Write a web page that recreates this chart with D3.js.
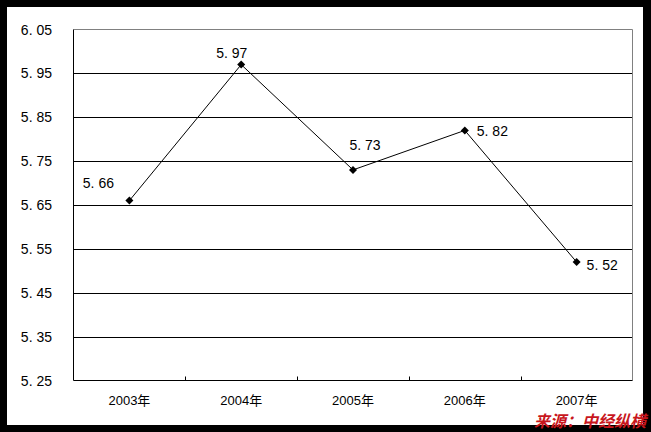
<!DOCTYPE html>
<html><head><meta charset="utf-8">
<script src="https://cdn.jsdelivr.net/npm/d3@7"></script>
<style>body{margin:0;background:#fff}</style>
</head><body>
<script>
const categories = ["2003年","2004年","2005年","2006年","2007年"];
const values = [5.66, 5.97, 5.73, 5.82, 5.52];
const yTicks = [5.25,5.35,5.45,5.55,5.65,5.75,5.85,5.95,6.05];
const sourceText = "来源：中经纵横";

// label placement (layout only): [anchor, dx, dy]
const labelLayout = [["middle",-31,-13],["middle",-9.5,-7],["middle",12,-19.5],["start",12,6],["start",10,8]];

const W=651,H=432;
const svg=d3.select("body").append("svg").attr("width",W).attr("height",H);
svg.append("rect").attr("x",0).attr("y",0).attr("width",W).attr("height",H).attr("fill","#000");
svg.append("rect").attr("x",7).attr("y",7).attr("width",636).attr("height",418).attr("fill","#fff");

const L=73.5,R=632.5,T=29.5,B=380.5;
const x=d3.scaleBand().domain(categories).range([L,R]);
const y=d3.scaleLinear().domain([5.25,6.05]).range([B,T]);
const font="'Liberation Sans', Arial, sans-serif";

svg.append("g").selectAll("line").data(yTicks.slice(1,-1)).join("line")
 .attr("x1",L).attr("x2",R).attr("y1",d=>Math.round(y(d))+0.5).attr("y2",d=>Math.round(y(d))+0.5)
 .attr("stroke","#000");
svg.append("path").attr("d",`M${L},${T}H${R}V${B}`).attr("fill","none").attr("stroke","#808080");
svg.append("line").attr("x1",L).attr("x2",L).attr("y1",T).attr("y2",B).attr("stroke","#000");
svg.append("line").attr("x1",L).attr("x2",R).attr("y1",B).attr("y2",B).attr("stroke","#000");
svg.append("g").selectAll("line").data(categories.slice(1)).join("line")
 .attr("x1",d=>Math.round(x(d))+0.5).attr("x2",d=>Math.round(x(d))+0.5).attr("y1",B-4).attr("y2",B).attr("stroke","#000");

svg.append("g").selectAll("text").data(yTicks).join("text")
 .attr("x",52).attr("y",d=>y(d)+5).attr("text-anchor","end")
 .attr("font-family",font).attr("font-size",14).attr("fill","#000")
 .text(d=>d.toFixed(2).replace(".",". "));
svg.append("g").selectAll("text").data(categories).join("text")
 .attr("x",d=>x(d)+x.bandwidth()/2).attr("y",405).attr("text-anchor","middle")
 .attr("font-family","'Liberation Sans','Noto Sans CJK SC',sans-serif").attr("font-size",13).attr("fill","#000")
 .text(d=>d);

const cx=d=>x(d)+x.bandwidth()/2;
const line=d3.line().x((d,i)=>cx(categories[i])).y(d=>y(d));
svg.append("path").attr("d",line(values)).attr("fill","none").attr("stroke","#000").attr("stroke-width",1);
svg.append("g").selectAll("path").data(values).join("path")
 .attr("transform",(d,i)=>`translate(${cx(categories[i])},${y(d)})`)
 .attr("d","M0,-4L4,0L0,4L-4,0Z").attr("fill","#000");

svg.append("g").selectAll("text").data(values).join("text")
 .attr("x",(d,i)=>cx(categories[i])+labelLayout[i][1])
 .attr("y",(d,i)=>y(d)+labelLayout[i][2])
 .attr("text-anchor",(d,i)=>labelLayout[i][0])
 .attr("font-family",font).attr("font-size",14).attr("fill","#000")
 .text(d=>d.toFixed(2).replace(".",". "));

svg.append("text").attr("x",646).attr("y",427).attr("text-anchor","end")
 .attr("font-family","'Noto Sans CJK SC',sans-serif").attr("font-size",16).attr("font-weight","bold")
 .attr("font-style","italic").attr("fill","#c8161d").text(sourceText);
</script>
</body></html>
